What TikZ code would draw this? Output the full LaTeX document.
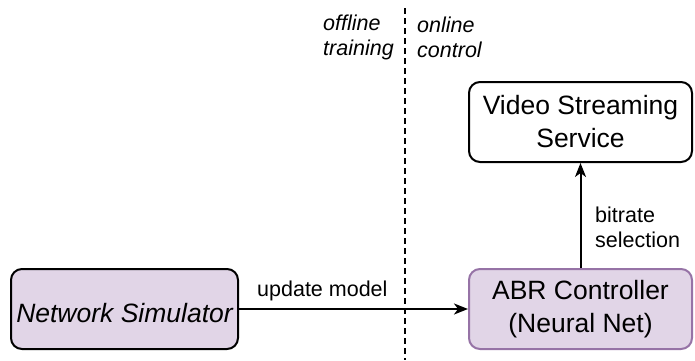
\documentclass[tikz,border=0pt]{standalone}
\usepackage{fontspec}
\setmainfont{Liberation Sans}
\usetikzlibrary{arrows.meta}
\definecolor{boxfill}{HTML}{E1D5E7}
\definecolor{boxline}{HTML}{9673A6}
\begin{document}
\begin{tikzpicture}[x=1pt,y=-1pt,
  block/.style={draw, line width=2pt, rounded corners=11pt, minimum width=223pt,
    minimum height=80pt, align=center, inner sep=0pt,
    font=\fontsize{26.5}{33}\selectfont,
    execute at begin node={\rule{0pt}{27pt}}},
  lbl/.style={inner sep=0pt, font=\fontsize{21.5}{25}\selectfont},
  link/.style={line width=2pt, -{Stealth[length=14pt,width=11pt,inset=4pt]}}
]
\useasboundingbox (0,0) rectangle (695,360);

% boxes
\node[block, fill=boxfill, minimum width=227pt, font=\fontsize{26.5}{33}\selectfont\itshape]
  (sim) at (124.5,309) {Network Simulator};
\node[block, draw=boxline, fill=boxfill] (abr) at (580.5,309) {ABR Controller\\(Neural Net)};
\node[block, fill=white] (vss) at (580.5,122) {Video Streaming\\Service};

% offline / online divider
\coordinate (divtop) at (405,8);
\coordinate (divbot) at (405,360);
\draw[line width=2pt, dash pattern=on 6pt off 4pt] (divtop) -- (divbot);
\node[lbl, align=left, anchor=west, font=\fontsize{21.5}{25}\selectfont\itshape]
  (off) at (323,37) {offline\\training};
\node[lbl, align=left, anchor=west, font=\fontsize{21.5}{25}\selectfont\itshape]
  (on) at (417,37) {online\\control};

% connectors
\draw[link] (sim) -- (abr);
\node[lbl, anchor=base west] (upd) at (257,296) {update model};
\draw[link] (abr) -- (vss);
\node[lbl, align=left, anchor=west] (sel) at (595,227) {bitrate\\selection};
\end{tikzpicture}
\end{document}
